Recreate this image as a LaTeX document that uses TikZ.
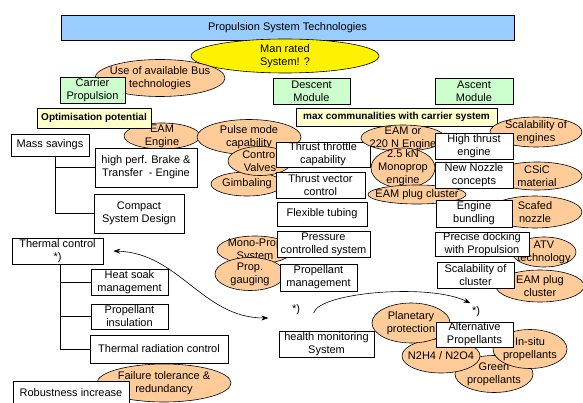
\documentclass[tikz,border=0pt]{standalone}
\usepackage{fontspec}
\setmainfont{Liberation Sans}
\usetikzlibrary{shapes.geometric, arrows.meta}

\definecolor{peach}{HTML}{FFCC99}
\definecolor{titleblue}{HTML}{99CCFF}
\definecolor{mintgreen}{HTML}{CCFFCC}
\definecolor{paleyellow}{HTML}{FFFFCC}

\tikzset{
  box/.style 2 args={draw, fill=white, align=center, inner sep=0pt, minimum width=#1pt, minimum height=#2pt},
  headbox/.style 2 args={box={#1}{#2}, fill=mintgreen},
  notebox/.style 2 args={box={#1}{#2}, fill=paleyellow, font=\fontsize{10}{12}\selectfont\bfseries},
  bubble/.style n args={3}{ellipse, draw, fill=peach, inner sep=0pt, minimum width=#1pt, minimum height=#2pt, label={[align=center]center:{#3}}},
}

\begin{document}
\begin{tikzpicture}[x=1pt, y=-1pt, >={Stealth[length=7pt, width=5pt]}, line width=0.6pt,
    every node/.style={font=\fontsize{11}{13}\selectfont}]

        \useasboundingbox (0,0) rectangle (583,403);
        \clip (0,0) rectangle (583,403);

        % Title
        \node[box={453}{25}, fill=titleblue] (title) at (287.5,27.5) {Propulsion System Technologies};
        \node[bubble={188}{34}{Man rated\\System! ?}, fill=yellow] (manrated) at (285,56) {};

        % Carrier propulsion
        \node[bubble={130}{37}{Use of available Bus\\technologies}] (usebus) at (160,78) {};
        \node[headbox={65}{26}] (carrier) at (92.5,90) {Carrier\\Propulsion};
        \node[bubble={76}{26}{EAM\\Engine}] (eam) at (162,136) {};
        \node[notebox={114}{20}] (optim) at (94,118) {Optimisation potential};
        \node[box={78}{22}] (mass) at (50,145) {Mass savings};
        \node[box={102}{39}] (brake) at (146,167.5) {high perf. Brake \&\\Transfer~ - Engine};
        \node[box={90}{39}] (compact) at (139,213.5) {Compact\\System Design};
        \draw ([xshift=5pt]mass.south) |- (brake.west);
        \draw ([xshift=5pt]mass.south) |- (compact.west);

        % Descent module
        \node[headbox={77}{26}] (descent) at (311.5,91) {Descent\\Module};
        \node[bubble={104}{35}{Pulse mode\\capability}] (pulse) at (249,137) {};
        \node[notebox={201}{18}] (maxcomm) at (396.5,117) {max communalities with carrier system};
        \node[bubble={72}{24}{Gimbaling}] (gimbal) at (247,184) {};
        \node[bubble={64}{29}{Control\\Valves}] (valves) at (260,161) {};
        \node[box={94}{25}] (throttle) at (323,154.5) {Thrust throttle\\capability};
        \node[box={89}{26}] (vector) at (320.5,185) {Thrust vector\\control};
        \node[box={90}{24}] (tubing) at (322,214) {Flexible tubing};
        \node[bubble={76}{28}{Mono-Prop\\System}] (monosys) at (255,250) {};
        \node[bubble={70}{33}{Prop.\\gauging}] (gauging) at (250,274) {};
        \node[box={93}{26}] (pressure) at (323.5,244) {Pressure\\controlled system};
        \node[box={77}{27}] (propmgmt) at (318.5,277.5) {Propellant\\management};

        % Engines in between
        \node[bubble={84}{26}{EAM or\\220 N Engine}] (eam220) at (403,138) {};
        \node[bubble={64}{40}{2.5 kN\\Monoprop\\engine}] (monoprop) at (403,168) {};
        \node[bubble={98}{19}{EAM plug cluster}] (plugmid) at (417,194.5) {};

        % Ascent module
        \node[headbox={78}{26}] (ascent) at (474,91) {Ascent\\Module};
        \node[bubble={92}{30}{Scalability of\\engines}] (scaleng) at (536,132) {};
        \node[bubble={90}{28}{CSiC\\material}] (csic) at (537,176) {};
        \node[bubble={94}{32}{Scafed\\nozzle}] (scafed) at (535,212) {};
        \node[box={78}{26}] (highthrust) at (474,146) {High thrust\\engine};
        \node[box={78}{26}] (nozzle) at (474,175) {New Nozzle\\concepts};
        \node[box={76}{27}] (bundling) at (474,213.5) {Engine\\bundling};
        \node[bubble={64}{30}{ATV\\technology}] (atv) at (544,252) {};
        \node[bubble={88}{32}{EAM plug\\cluster}] (plugright) at (540,286) {};
        \node[box={94}{24}] (docking) at (482,244) {Precise docking\\with Propulsion};
        \node[box={77}{26}] (scalcluster) at (475.5,275) {Scalability of\\cluster};

        % Thermal control
        \node[box={91}{26}] (thermal) at (57.5,251) {Thermal control\\*)};
        \node[box={77}{26}] (heatsoak) at (129.5,282) {Heat soak\\management};
        \node[box={77}{25}] (insulation) at (129.5,316.5) {Propellant\\insulation};
        \node[box={138}{28}] (radiation) at (159,349) {Thermal radiation control};
        \draw ([xshift=2.5pt]thermal.south) |- (heatsoak.west);
        \draw ([xshift=2.5pt]thermal.south) |- (insulation.west);
        \draw ([xshift=2.5pt]thermal.south) |- (radiation.west);

        % Robustness
        \node[bubble={134}{38}{Failure tolerance \&\\redundancy}] (failure) at (164,383) {};
        \node[box={116}{24}] (robust) at (71,393) {Robustness increase};

        % Health monitoring
        \node (star1) at (296,310) {*)};
        \node (star2) at (476,312) {*)};
        \node[box={95}{26}] (health) at (326.5,344) {health monitoring\\System};
        \draw[<->] ([xshift=10pt]thermal.east) .. controls +(66,2) and +(-66,0) .. ([shift={(-20pt,-8pt)}]star1.west);
        \draw[->] ([shift={(10pt,-3pt)}]star1.east) .. controls +(6,-21) and +(-40,-20) .. ([xshift=2pt]star2.north west);

        % Alternative propellants
        \node[bubble={78}{37}{Green\\propellants}] (green) at (494,374) {};
        \node[bubble={78}{34}{N2H4 / N2O4}] (n2h4) at (441,356) {};
        \node[bubble={74}{39}{In-situ\\propellants}] (insitu) at (530,349) {};
        \node[bubble={78}{40}{Planetary\\protection}] (planetary) at (411,323) {};
        \node[box={77}{25}] (altprop) at (474.5,334.5) {Alternative\\Propellants};

\end{tikzpicture}
\end{document}
